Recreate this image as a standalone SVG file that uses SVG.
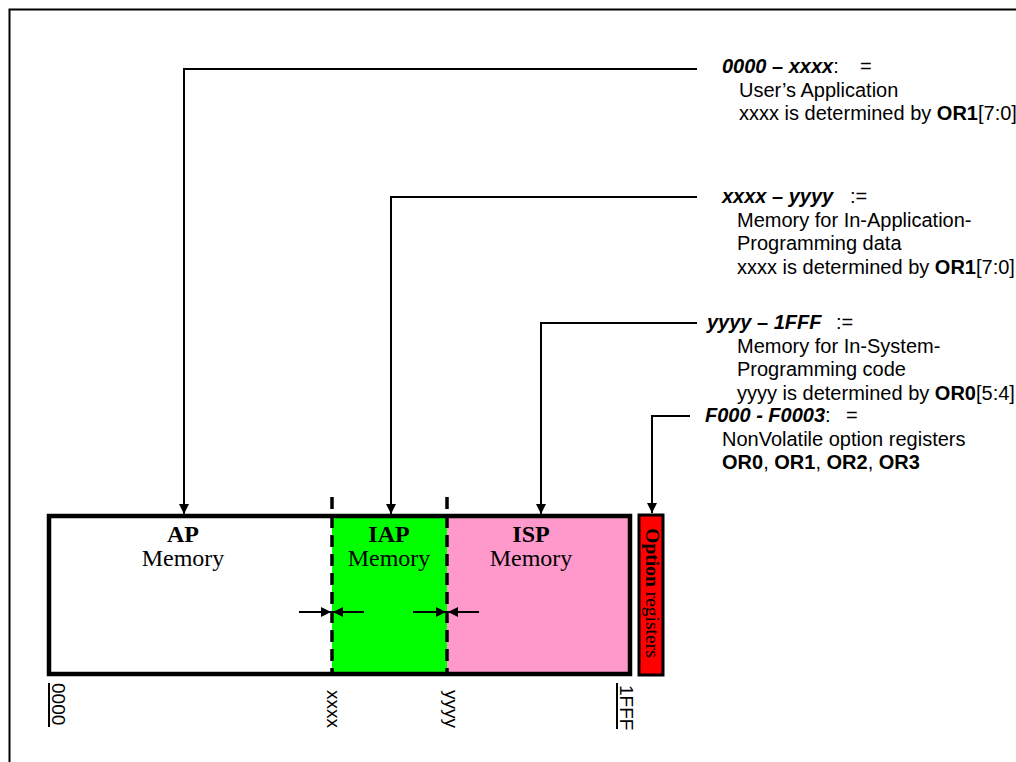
<svg xmlns="http://www.w3.org/2000/svg" width="1016" height="762" viewBox="0 0 1016 762">
<defs>
<marker id="ah" viewBox="0 0 10 10" refX="10" refY="5" markerWidth="11" markerHeight="10" markerUnits="userSpaceOnUse" orient="auto">
<path d="M0,0 L10,5 L0,10 Z" fill="#000"/>
</marker>
<style>
.conn{fill:none;stroke:#000;stroke-width:2}
.lbl{font-family:"Liberation Sans",Arial,sans-serif;font-size:20px;fill:#000}
.bi{font-weight:bold;font-style:italic}
.b{font-weight:bold}
.mem{font-family:"Liberation Serif","Times New Roman",serif;font-size:24px;fill:#000;text-anchor:middle}
.addr{font-family:"Liberation Sans",Arial,sans-serif;font-size:19px;fill:#000}
.dash{stroke:#000;stroke-width:3.5;stroke-dasharray:12 7;fill:none}
.tick{stroke:#000;stroke-width:2}
</style>
</defs>
<rect x="9.5" y="9.5" width="1100" height="800" fill="#fff" stroke="#000" stroke-width="2"/>

<g id="ap-memory">
<rect x="49" y="516" width="283" height="158" fill="#fff"/>
<text class="mem" x="183" y="542" font-weight="bold">AP</text>
<text class="mem" x="183" y="566">Memory</text>
</g>
<g id="iap-memory">
<rect x="332" y="516" width="115" height="158" fill="#00ff00"/>
<text class="mem" x="389" y="542" font-weight="bold">IAP</text>
<text class="mem" x="389" y="566">Memory</text>
</g>
<g id="isp-memory">
<rect x="447" y="516" width="183" height="158" fill="#ff99cc"/>
<text class="mem" x="531" y="542" font-weight="bold">ISP</text>
<text class="mem" x="531" y="566">Memory</text>
</g>
<g id="memory-frame">
<rect x="49" y="516" width="581" height="158" fill="none" stroke="#000" stroke-width="4.5"/>
<line class="dash" x1="332" y1="497" x2="332" y2="674"/>
<line class="dash" x1="447" y1="497" x2="447" y2="674"/>
</g>
<g id="option-registers">
<rect x="639" y="515" width="24" height="160" fill="#ff0000" stroke="#000" stroke-width="3"/>
<text transform="translate(645.5,593) rotate(90)" font-family="'Liberation Serif','Times New Roman',serif" font-size="19.5" text-anchor="middle" fill="#000"><tspan font-weight="bold">Option</tspan> registers</text>
</g>

<g id="boundary-arrows">
<line class="conn" x1="299" y1="612" x2="331" y2="612" marker-end="url(#ah)"/>
<line class="conn" x1="364" y1="612" x2="333" y2="612" marker-end="url(#ah)"/>
<line class="conn" x1="413" y1="612" x2="446" y2="612" marker-end="url(#ah)"/>
<line class="conn" x1="479" y1="612" x2="448" y2="612" marker-end="url(#ah)"/>
</g>

<g id="addresses">
<line class="tick" x1="49" y1="683" x2="49" y2="727"/>
<text class="addr" transform="translate(52,683) rotate(90)">0000</text>
<text class="addr" transform="translate(327,690) rotate(90)">xxxx</text>
<text class="addr" transform="translate(445,690) rotate(90)">yyyy</text>
<line class="tick" x1="617" y1="683" x2="617" y2="729"/>
<text class="addr" transform="translate(620,685) rotate(90)">1FFF</text>
</g>

<g id="connectors">
<polyline class="conn" points="697,69 184,69 184,514" marker-end="url(#ah)"/>
<polyline class="conn" points="697,197 391,197 391,514" marker-end="url(#ah)"/>
<polyline class="conn" points="697,323 541,323 541,514" marker-end="url(#ah)"/>
<polyline class="conn" points="690,416 652,416 652,513" marker-end="url(#ah)"/>
</g>

<g id="desc-ap">
<text class="lbl" x="722" y="73"><tspan class="bi">0000 – xxxx</tspan>:<tspan x="860">=</tspan></text>
<text class="lbl" x="739" y="97">User’s Application</text>
<text class="lbl" x="739" y="120">xxxx is determined by <tspan class="b">OR1</tspan>[7:0]</text>
</g>
<g id="desc-iap">
<text class="lbl" x="722" y="203"><tspan class="bi">xxxx – yyyy</tspan><tspan x="850">:=</tspan></text>
<text class="lbl" x="737" y="227">Memory for In-Application-</text>
<text class="lbl" x="737" y="250">Programming data</text>
<text class="lbl" x="737" y="274">xxxx is determined by <tspan class="b">OR1</tspan>[7:0]</text>
</g>
<g id="desc-isp">
<text class="lbl" x="707" y="329"><tspan class="bi">yyyy – 1FFF</tspan><tspan x="836">:=</tspan></text>
<text class="lbl" x="737" y="353">Memory for In-System-</text>
<text class="lbl" x="737" y="376">Programming code</text>
<text class="lbl" x="737" y="400">yyyy is determined by <tspan class="b">OR0</tspan>[5:4]</text>
</g>
<g id="desc-or">
<text class="lbl" x="705" y="422"><tspan class="bi">F000 - F0003</tspan>:<tspan x="846">=</tspan></text>
<text class="lbl" x="722" y="446">NonVolatile option registers</text>
<text class="lbl" x="722" y="469"><tspan class="b">OR0</tspan>, <tspan class="b">OR1</tspan>, <tspan class="b">OR2</tspan>, <tspan class="b">OR3</tspan></text>
</g>
</svg>
